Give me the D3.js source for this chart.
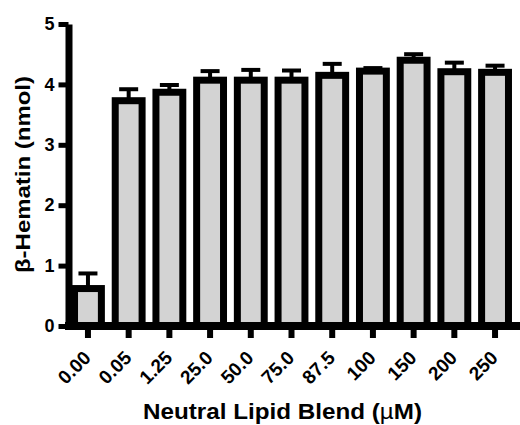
<!DOCTYPE html>
<html>
<head>
<meta charset="utf-8">
<script src="https://cdn.jsdelivr.net/npm/d3@7"></script>
<style>
  html, body { margin: 0; padding: 0; background: #fff; }
  svg { display: block; }
  text { font-family: "Liberation Sans", Arial, Helvetica, sans-serif; }
</style>
</head>
<body>
<svg id="chart" width="520" height="425"></svg>
<script>
// Neutral lipid blend concentrations (µM) and β-hematin formed (nmol), mean + SEM
const categories = ["0.00", "0.05", "1.25", "25.0", "50.0", "75.0", "87.5", "100", "150", "200", "250"];
const means = [0.62, 3.73, 3.87, 4.07, 4.07, 4.07, 4.15, 4.22, 4.40, 4.21, 4.20];
const sems  = [0.25, 0.19, 0.12, 0.15, 0.17, 0.16, 0.19, 0.05, 0.10, 0.15, 0.11];
const yTicks = [0, 1, 2, 3, 4, 5];

const svg = d3.select("#chart");

const x = d3.scaleBand()
  .domain(categories)
  .range([67.6, 515.4])
  .paddingInner(0.34)
  .paddingOuter(0.17);

const y = d3.scaleLinear()
  .domain([0, 5])
  .range([326, 24]);

const data = categories.map((c, i) => ({ c, m: means[i], e: sems[i] }));

// error bars (upper only)
const err = svg.append("g");
err.selectAll("line.stem")
  .data(data)
  .join("line")
  .attr("x1", d => x(d.c) + x.bandwidth() / 2)
  .attr("x2", d => x(d.c) + x.bandwidth() / 2)
  .attr("y1", d => y(d.m))
  .attr("y2", d => y(d.m + d.e))
  .attr("stroke", "#000")
  .attr("stroke-width", 4);
err.selectAll("line.cap")
  .data(data)
  .join("line")
  .attr("x1", d => x(d.c) + x.bandwidth() / 2 - 9.5)
  .attr("x2", d => x(d.c) + x.bandwidth() / 2 + 9.5)
  .attr("y1", d => y(d.m + d.e))
  .attr("y2", d => y(d.m + d.e))
  .attr("stroke", "#000")
  .attr("stroke-width", 4);

// bars
svg.append("g")
  .selectAll("rect")
  .data(data)
  .join("rect")
  .attr("x", d => x(d.c))
  .attr("width", x.bandwidth())
  .attr("y", d => y(d.m))
  .attr("height", d => y(0) - y(d.m))
  .attr("fill", "#d3d3d3")
  .attr("stroke", "#000")
  .attr("stroke-width", 7);

// y axis
const yAxis = svg.append("g")
  .attr("transform", "translate(68.5,0)")
  .call(d3.axisLeft(y).tickValues(yTicks).tickFormat(d3.format("d")).tickSize(10).tickSizeOuter(0).tickPadding(4));
yAxis.select(".domain").attr("stroke-width", 7).attr("stroke", "#000");
yAxis.selectAll(".tick line").attr("stroke-width", 5).attr("stroke", "#000");
yAxis.selectAll(".tick text")
  .attr("font-size", 18)
  .attr("font-weight", "bold")
  .attr("fill", "#000")
  .attr("font-family", "Liberation Sans, Arial, sans-serif");

// x axis
const xAxis = svg.append("g")
  .attr("transform", "translate(0,326)")
  .call(d3.axisBottom(x).tickSize(12).tickSizeOuter(0));
xAxis.select(".domain").remove();
xAxis.selectAll(".tick line").attr("stroke-width", 6).attr("stroke", "#000");
xAxis.selectAll(".tick text")
  .attr("font-size", 19)
  .attr("font-weight", "bold")
  .attr("fill", "#000")
  .attr("font-family", "Liberation Sans, Arial, sans-serif")
  .attr("text-anchor", "end")
  .attr("dy", null)
  .attr("y", 0)
  .attr("transform", "translate(4,33) rotate(-45)");

// x baseline spanning from the y axis to the right edge
svg.append("line")
  .attr("x1", 65)
  .attr("x2", 520)
  .attr("y1", y(0))
  .attr("y2", y(0))
  .attr("stroke", "#000")
  .attr("stroke-width", 8);

// axis titles
const xt = svg.append("text")
  .attr("x", 282.5)
  .attr("y", 419)
  .attr("text-anchor", "middle")
  .attr("font-size", 22)
  .attr("font-weight", "bold")
  .attr("textLength", 279)
  .attr("lengthAdjust", "spacingAndGlyphs");
xt.append("tspan").text("Neutral Lipid Blend (");
xt.append("tspan").attr("font-weight", "normal").text("µ");
xt.append("tspan").text("M)");

svg.append("text")
  .attr("transform", "translate(30,174.5) rotate(-90)")
  .attr("text-anchor", "middle")
  .attr("font-size", 21)
  .attr("font-weight", "bold")
  .attr("textLength", 197)
  .attr("lengthAdjust", "spacingAndGlyphs")
  .text("β-Hematin (nmol)");
</script>
</body>
</html>
